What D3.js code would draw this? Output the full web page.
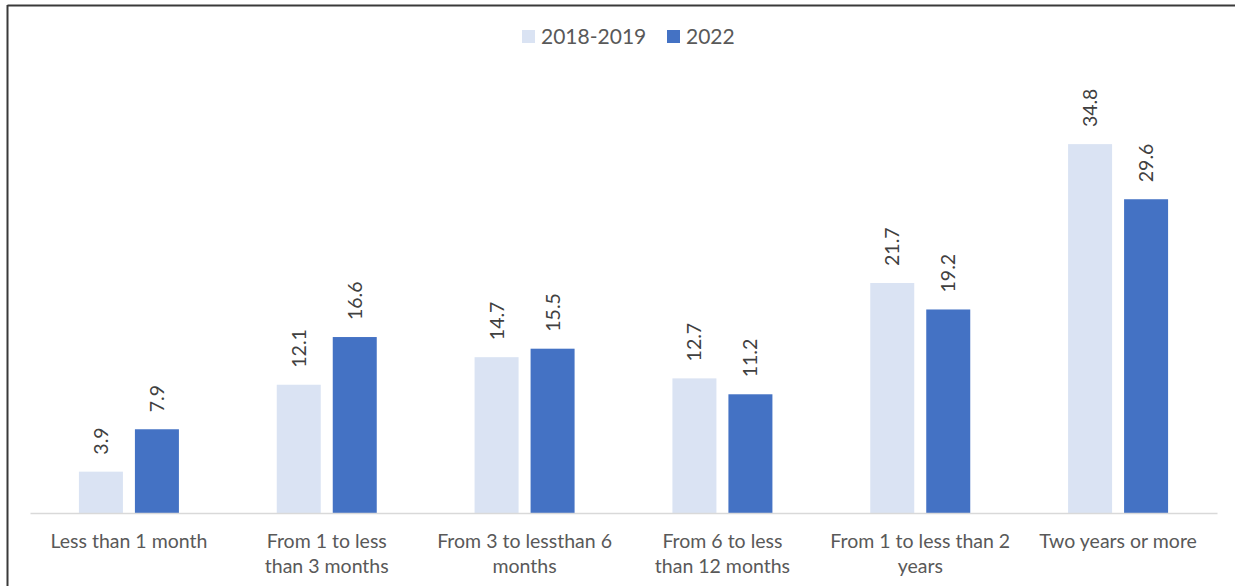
<!DOCTYPE html>
<html>
<head>
<meta charset="utf-8">
<script src="https://cdn.jsdelivr.net/npm/d3@7"></script>
<style>
  html, body { margin: 0; padding: 0; background: #fff; }
  svg { display: block; font-family: Lato, "Noto Sans", sans-serif; }
</style>
</head>
<body>
<svg id="chart" width="1235" height="586"></svg>
<script>
// Duration categories (line breaks mark how each label wraps)
const categories = [
  "Less than 1 month",
  "From 1 to less\nthan 3 months",
  "From 3 to lessthan 6\nmonths",
  "From 6 to less\nthan 12 months",
  "From 1 to less than 2\nyears",
  "Two years or more"
];
const seriesNames = ["2018-2019", "2022"];
const values2018 = [3.9, 12.1, 14.7, 12.7, 21.7, 34.8];
const values2022 = [7.9, 16.6, 15.5, 11.2, 19.2, 29.6];
const seriesColors = ["#DAE3F3", "#4472C4"];

const svg = d3.select("#chart");
const W = 1235, H = 586;

// Outer frame (top and left edges visible)
svg.append("line").attr("x1", 7.5).attr("y1", 5.5).attr("x2", W).attr("y2", 5.5)
  .attr("stroke", "#3a3a3a").attr("stroke-width", 2);
svg.append("line").attr("x1", 7.5).attr("y1", 5).attr("x2", 7.5).attr("y2", H)
  .attr("stroke", "#3a3a3a").attr("stroke-width", 2);

const plot = { left: 30, right: 1217, base: 513 };

const x0 = d3.scaleBand()
  .domain(d3.range(categories.length))
  .range([plot.left, plot.right])
  .paddingInner(0).paddingOuter(0);

const groupW = 100;
const x1 = d3.scaleBand()
  .domain(d3.range(seriesNames.length))
  .range([0, groupW])
  .paddingInner(12 / 56).paddingOuter(0);

const y = d3.scaleLinear().domain([0, 40]).range([plot.base, plot.base - 424]);

const rows = categories.map((c, i) => ({ i, vals: [values2018[i], values2022[i]] }));

const groups = svg.append("g").selectAll("g").data(rows).join("g")
  .attr("transform", d => `translate(${x0(d.i) + (x0.bandwidth() - groupW) / 2},0)`);

groups.selectAll("rect").data(d => d.vals.map((v, s) => ({ v, s }))).join("rect")
  .attr("x", d => x1(d.s))
  .attr("width", x1.bandwidth())
  .attr("y", d => y(d.v))
  .attr("height", d => y(0) - y(d.v))
  .attr("fill", d => seriesColors[d.s]);

// Value labels, rotated above each bar
groups.selectAll("text.val").data(d => d.vals.map((v, s) => ({ v, s }))).join("text")
  .attr("class", "val")
  .attr("transform", d => `translate(${x1(d.s) + x1.bandwidth() / 2},${y(d.v) - 17}) rotate(-90)`)
  .attr("dy", "0.36em")
  .attr("text-anchor", "start")
  .attr("font-size", 19.5)
  .attr("fill", "#404040")
  .text(d => d.v.toFixed(1));

// Category axis
const axis = svg.append("g").attr("transform", `translate(0,${plot.base})`)
  .call(d3.axisBottom(x0).tickSize(0).tickFormat(() => ""));
axis.select(".domain").attr("stroke", "#D9D9D9").attr("stroke-width", 1.5);

const labels = svg.append("g").selectAll("text").data(categories).join("text")
  .attr("x", (d, i) => x0(i) + x0.bandwidth() / 2)
  .attr("y", 548)
  .attr("text-anchor", "middle")
  .attr("font-size", 19.5)
  .attr("fill", "#595959");
labels.selectAll("tspan").data(d => d.split("\n")).join("tspan")
  .attr("x", function () { return this.parentNode.getAttribute("x"); })
  .attr("dy", (d, i) => i === 0 ? 0 : 25)
  .text(d => d);

// Legend
const legendItems = [
  { name: seriesNames[0], color: seriesColors[0], x: 522 },
  { name: seriesNames[1], color: seriesColors[1], x: 667 }
];
const lg = svg.append("g").selectAll("g").data(legendItems).join("g")
  .attr("transform", d => `translate(${d.x},30)`);
lg.append("rect").attr("width", 13).attr("height", 13).attr("fill", d => d.color);
lg.append("text").attr("x", 19).attr("y", 6.5).attr("dy", "0.36em")
  .attr("font-size", 21).attr("fill", "#595959").text(d => d.name);
</script>
</body>
</html>
